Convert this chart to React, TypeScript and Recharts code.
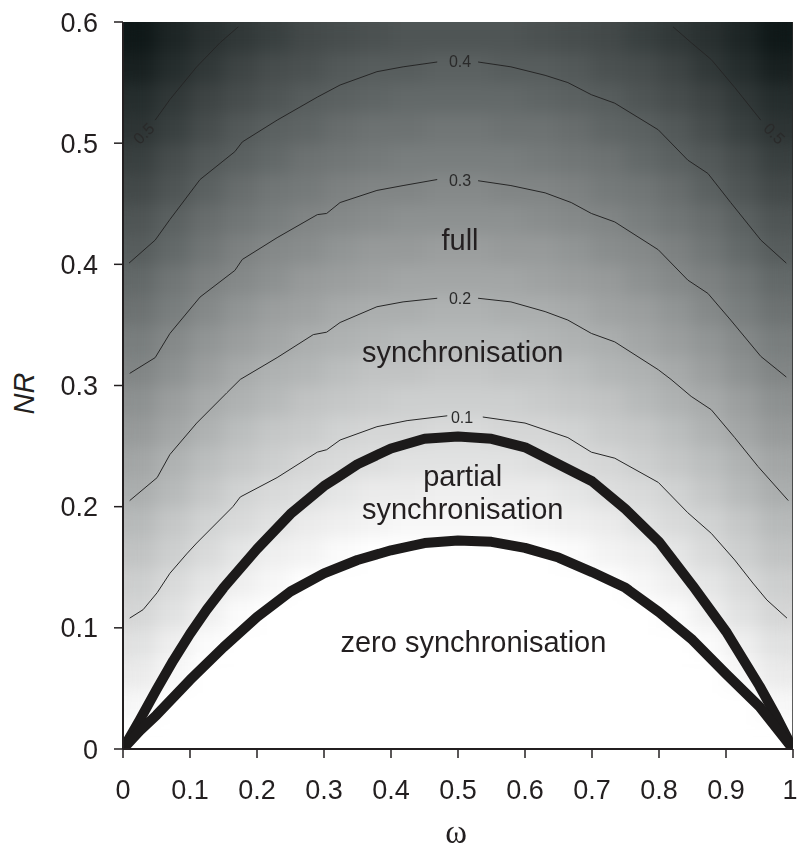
import {
  ComposedChart,
  XAxis,
  YAxis,
  Line,
  ReferenceArea,
  ReferenceDot,
} from "recharts";

const OMEGA_TICKS = [0, 0.1, 0.2, 0.3, 0.4, 0.5, 0.6, 0.7, 0.8, 0.9, 1];
const NR_TICKS = [0, 0.1, 0.2, 0.3, 0.4, 0.5, 0.6];

// heat map bins (cell edges) and the synchronisation level read per cell
const OMEGA_EDGES = [0, 0.05, 0.1, 0.15, 0.2, 0.25, 0.3, 0.35, 0.4, 0.45, 0.5, 0.55, 0.6, 0.65, 0.7, 0.75, 0.8, 0.85, 0.9, 0.95, 1];
const NR_EDGES = [0, 0.025, 0.05, 0.075, 0.1, 0.125, 0.15, 0.175, 0.2, 0.225, 0.25, 0.275, 0.3, 0.325, 0.35, 0.375, 0.4, 0.425, 0.45, 0.475, 0.5, 0.525, 0.55, 0.575, 0.6];

// rows from NR = 0 upwards
const SYNC_GRID = [
  [0, 0, 0, 0, 0, 0, 0, 0, 0, 0, 0, 0, 0, 0, 0, 0, 0, 0, 0, 0],
  [0.02, 0, 0, 0, 0, 0, 0, 0, 0, 0, 0, 0, 0, 0, 0, 0, 0, 0, 0, 0.02],
  [0.05, 0.02, 0, 0, 0, 0, 0, 0, 0, 0, 0, 0, 0, 0, 0, 0, 0, 0, 0.02, 0.05],
  [0.07, 0.04, 0.01, 0, 0, 0, 0, 0, 0, 0, 0, 0, 0, 0, 0, 0, 0, 0.01, 0.04, 0.07],
  [0.1, 0.07, 0.04, 0.01, 0, 0, 0, 0, 0, 0, 0, 0, 0, 0, 0, 0, 0.01, 0.04, 0.07, 0.1],
  [0.12, 0.09, 0.06, 0.04, 0.02, 0, 0, 0, 0, 0, 0, 0, 0, 0, 0, 0.02, 0.04, 0.06, 0.09, 0.12],
  [0.15, 0.12, 0.09, 0.06, 0.04, 0.03, 0.01, 0, 0, 0, 0, 0, 0, 0.01, 0.03, 0.04, 0.06, 0.09, 0.12, 0.15],
  [0.17, 0.14, 0.11, 0.09, 0.07, 0.05, 0.04, 0.03, 0.02, 0.02, 0.02, 0.02, 0.03, 0.04, 0.05, 0.07, 0.09, 0.11, 0.14, 0.17],
  [0.2, 0.17, 0.14, 0.11, 0.09, 0.08, 0.06, 0.05, 0.05, 0.04, 0.04, 0.05, 0.05, 0.06, 0.08, 0.09, 0.11, 0.14, 0.17, 0.2],
  [0.22, 0.19, 0.16, 0.14, 0.12, 0.1, 0.09, 0.08, 0.07, 0.07, 0.07, 0.07, 0.08, 0.09, 0.1, 0.12, 0.14, 0.16, 0.19, 0.22],
  [0.25, 0.22, 0.19, 0.16, 0.14, 0.13, 0.11, 0.1, 0.1, 0.09, 0.09, 0.1, 0.1, 0.11, 0.13, 0.14, 0.16, 0.19, 0.22, 0.25],
  [0.27, 0.24, 0.21, 0.19, 0.17, 0.15, 0.14, 0.13, 0.12, 0.12, 0.12, 0.12, 0.13, 0.14, 0.15, 0.17, 0.19, 0.21, 0.24, 0.27],
  [0.3, 0.27, 0.24, 0.21, 0.19, 0.18, 0.16, 0.15, 0.15, 0.14, 0.14, 0.15, 0.15, 0.16, 0.18, 0.19, 0.21, 0.24, 0.27, 0.3],
  [0.32, 0.29, 0.26, 0.24, 0.22, 0.2, 0.19, 0.18, 0.17, 0.17, 0.17, 0.17, 0.18, 0.19, 0.2, 0.22, 0.24, 0.26, 0.29, 0.32],
  [0.35, 0.32, 0.29, 0.26, 0.24, 0.23, 0.21, 0.2, 0.2, 0.19, 0.19, 0.2, 0.2, 0.21, 0.23, 0.24, 0.26, 0.29, 0.32, 0.35],
  [0.37, 0.34, 0.31, 0.29, 0.27, 0.25, 0.24, 0.23, 0.22, 0.22, 0.22, 0.22, 0.23, 0.24, 0.25, 0.27, 0.29, 0.31, 0.34, 0.37],
  [0.4, 0.37, 0.34, 0.31, 0.29, 0.28, 0.26, 0.25, 0.25, 0.24, 0.24, 0.25, 0.25, 0.26, 0.28, 0.29, 0.31, 0.34, 0.37, 0.4],
  [0.42, 0.39, 0.36, 0.34, 0.32, 0.3, 0.29, 0.28, 0.27, 0.27, 0.27, 0.27, 0.28, 0.29, 0.3, 0.32, 0.34, 0.36, 0.39, 0.42],
  [0.45, 0.42, 0.39, 0.36, 0.34, 0.33, 0.31, 0.3, 0.3, 0.29, 0.29, 0.3, 0.3, 0.31, 0.33, 0.34, 0.36, 0.39, 0.42, 0.45],
  [0.47, 0.44, 0.41, 0.39, 0.37, 0.35, 0.34, 0.33, 0.32, 0.32, 0.32, 0.32, 0.33, 0.34, 0.35, 0.37, 0.39, 0.41, 0.44, 0.47],
  [0.5, 0.47, 0.44, 0.41, 0.39, 0.38, 0.36, 0.35, 0.35, 0.34, 0.34, 0.35, 0.35, 0.36, 0.38, 0.39, 0.41, 0.44, 0.47, 0.5],
  [0.52, 0.49, 0.46, 0.44, 0.42, 0.4, 0.39, 0.38, 0.37, 0.37, 0.37, 0.37, 0.38, 0.39, 0.4, 0.42, 0.44, 0.46, 0.49, 0.52],
  [0.55, 0.52, 0.49, 0.46, 0.44, 0.43, 0.41, 0.4, 0.4, 0.39, 0.39, 0.4, 0.4, 0.41, 0.43, 0.44, 0.46, 0.49, 0.52, 0.55],
  [0.57, 0.54, 0.51, 0.49, 0.47, 0.45, 0.44, 0.43, 0.42, 0.42, 0.42, 0.42, 0.43, 0.44, 0.45, 0.47, 0.49, 0.51, 0.54, 0.57],
];

// thick boundaries
const PARTIAL_EDGE = [
  [0, 0], [0.025, 0.024], [0.05, 0.049], [0.075, 0.073], [0.1, 0.095], [0.125, 0.115],
  [0.15, 0.133], [0.2, 0.165], [0.25, 0.194], [0.3, 0.217], [0.32, 0.224], [0.35, 0.235],
  [0.4, 0.248], [0.45, 0.256], [0.5, 0.258], [0.55, 0.256], [0.6, 0.249], [0.65, 0.235],
  [0.7, 0.221], [0.75, 0.198], [0.8, 0.171], [0.85, 0.135], [0.9, 0.097], [0.95, 0.052],
  [0.975, 0.027], [1, 0],
];
const ZERO_EDGE = [
  [0, 0], [0.025, 0.015], [0.05, 0.028], [0.1, 0.057], [0.15, 0.084], [0.2, 0.109],
  [0.25, 0.13], [0.3, 0.145], [0.35, 0.156], [0.4, 0.164], [0.45, 0.17], [0.5, 0.172],
  [0.55, 0.171], [0.6, 0.166], [0.65, 0.158], [0.7, 0.146], [0.75, 0.133], [0.8, 0.113],
  [0.85, 0.09], [0.9, 0.062], [0.95, 0.035], [1, 0],
];

// right-hand frame of the map
const RIGHT_FRAME = [[1, 0], [1, 0.6]];

// contour lines, split where the level label sits
const C01_LEFT = [
  [0.01, 0.108], [0.03, 0.115], [0.051, 0.129], [0.07, 0.145], [0.095, 0.161], [0.11, 0.17],
  [0.164, 0.2], [0.175, 0.208], [0.23, 0.224], [0.29, 0.245], [0.304, 0.247], [0.324, 0.255],
  [0.379, 0.266], [0.424, 0.271], [0.484, 0.275],
];
const C01_RIGHT = [
  [0.537, 0.274], [0.6, 0.269], [0.664, 0.257], [0.699, 0.245], [0.734, 0.24], [0.799, 0.22],
  [0.843, 0.195], [0.878, 0.178], [0.913, 0.156], [0.94, 0.137], [0.961, 0.123], [0.991, 0.108],
];
const C02_LEFT = [
  [0.01, 0.205], [0.051, 0.224], [0.07, 0.243], [0.11, 0.269], [0.155, 0.294], [0.175, 0.305],
  [0.23, 0.323], [0.284, 0.342], [0.304, 0.344], [0.324, 0.352], [0.379, 0.365], [0.418, 0.369],
  [0.469, 0.372],
];
const C02_RIGHT = [
  [0.53, 0.372], [0.579, 0.369], [0.63, 0.361], [0.664, 0.354], [0.699, 0.343], [0.734, 0.336],
  [0.799, 0.313], [0.818, 0.305], [0.848, 0.291], [0.878, 0.28], [0.913, 0.257], [0.948, 0.233],
  [0.993, 0.205],
];
const C03_LEFT = [
  [0.01, 0.31], [0.048, 0.323], [0.07, 0.343], [0.115, 0.373], [0.167, 0.395], [0.178, 0.404],
  [0.23, 0.422], [0.29, 0.441], [0.304, 0.442], [0.324, 0.451], [0.379, 0.461], [0.418, 0.465],
  [0.469, 0.47],
];
const C03_RIGHT = [
  [0.53, 0.469], [0.579, 0.465], [0.63, 0.459], [0.669, 0.451], [0.699, 0.442], [0.734, 0.435],
  [0.799, 0.412], [0.843, 0.387], [0.873, 0.376], [0.907, 0.354], [0.952, 0.324], [0.99, 0.307],
];
const C04_LEFT = [
  [0.009, 0.401], [0.048, 0.42], [0.07, 0.437], [0.115, 0.47], [0.167, 0.493], [0.178, 0.501],
  [0.23, 0.519], [0.29, 0.538], [0.324, 0.548], [0.379, 0.559], [0.418, 0.563], [0.469, 0.567],
];
const C04_RIGHT = [
  [0.53, 0.567], [0.579, 0.563], [0.63, 0.556], [0.664, 0.55], [0.699, 0.54], [0.734, 0.533],
  [0.799, 0.511], [0.843, 0.486], [0.873, 0.475], [0.907, 0.451], [0.952, 0.42], [0.99, 0.401],
];
const C05_LEFT = [[0.048, 0.519], [0.07, 0.536], [0.11, 0.563], [0.145, 0.583], [0.172, 0.596]];
const C05_RIGHT = [[0.821, 0.596], [0.848, 0.583], [0.878, 0.569], [0.913, 0.546], [0.952, 0.519]];

const CONTOUR_PARTS = [C01_LEFT, C01_RIGHT, C02_LEFT, C02_RIGHT, C03_LEFT, C03_RIGHT, C04_LEFT, C04_RIGHT, C05_LEFT, C05_RIGHT];

// level labels on the contours: [omega, NR, text, angle]
const LEVEL_LABELS: [number, number, string, number][] = [
  [0.506, 0.274, "0.1", 0],
  [0.503, 0.372, "0.2", 0],
  [0.503, 0.469, "0.3", 0],
  [0.503, 0.567, "0.4", 0],
  [0.031, 0.508, "0.5", -45],
  [0.972, 0.508, "0.5", 45],
];

// region names: [omega, NR baseline, text]
const REGION_LABELS: [number, number, string][] = [
  [0.503, 0.412, "full"],
  [0.507, 0.319, "synchronisation"],
  [0.507, 0.217, "partial"],
  [0.507, 0.19, "synchronisation"],
  [0.523, 0.08, "zero synchronisation"],
];

const FONT = 'Arial, "Liberation Sans", Helvetica, sans-serif';
const INK = "#231f20";

const pts = (arr: number[][]) => arr.map(([x, y]) => ({ x, y }));

function grey(z: number) {
  const g = Math.max(6, Math.min(255, Math.round(255 - 410 * z)));
  const t = 1 - g / 255;
  const r = Math.round(g - 6 * t);
  const gb = Math.round(g + 3 * t);
  return `rgb(${r},${gb},${gb})`;
}

function OmegaTick(props: any) {
  const { x, y, payload } = props;
  const v = payload.value;
  return (
    <text
      x={v === 1 ? x - 3 : x}
      y={y}
      dy="0.71em"
      textAnchor="middle"
      fill={INK}
      fontSize={27}
      fontFamily={FONT}
    >
      {String(v)}
    </text>
  );
}

// the reference areas end up in their own layer; soften that layer like the original raster
const FIELD_CSS = `
g:has(> .recharts-reference-area) {
  filter: url(#smoothField);
  clip-path: url(#plotClip);
}
`;

export default function App() {
  const cells = [];
  for (let j = 0; j < SYNC_GRID.length; j++) {
    for (let i = 0; i < SYNC_GRID[j].length; i++) {
      const fill = grey(SYNC_GRID[j][i]);
      cells.push(
        <ReferenceArea
          key={`c${j}-${i}`}
          x1={OMEGA_EDGES[i]}
          x2={OMEGA_EDGES[i + 1]}
          y1={NR_EDGES[j]}
          y2={NR_EDGES[j + 1]}
          fill={fill}
          fillOpacity={1}
          stroke={fill}
          strokeWidth={0.8}
          ifOverflow="hidden"
        />
      );
    }
  }

  const lineBase = {
    dataKey: "y",
    type: "linear" as const,
    dot: false,
    activeDot: false,
    isAnimationActive: false,
  };

  return (
    <div style={{ position: "absolute", left: 0, top: 0, background: "#fff" }}>
      <style>{FIELD_CSS}</style>
      <ComposedChart
        width={799}
        height={849}
        margin={{ top: 22, right: 6, bottom: 20, left: 0 }}
      >
        <defs>
          <filter id="smoothField" x="-5%" y="-5%" width="110%" height="110%" colorInterpolationFilters="sRGB">
            <feGaussianBlur stdDeviation="9 8" />
            <feComponentTransfer>
              <feFuncA type="linear" slope="0" intercept="1" />
            </feComponentTransfer>
          </filter>
          <clipPath id="plotClip">
            <rect x={123} y={22} width={670} height={727} />
          </clipPath>
        </defs>
        {cells}
        <XAxis
          type="number"
          dataKey="x"
          domain={[0, 1]}
          ticks={OMEGA_TICKS}
          interval={0}
          height={80}
          tickSize={9}
          tickMargin={22}
          axisLine={{ stroke: INK, strokeWidth: 2 }}
          tickLine={{ stroke: INK, strokeWidth: 1.5 }}
          tick={<OmegaTick />}
          allowDataOverflow
          label={{
            content: (p: any) => {
              const vb = p.viewBox;
              return (
                <text
                  x={vb.x + vb.width / 2 - 2}
                  y={843}
                  textAnchor="middle"
                  fill={INK}
                  fontSize={33}
                  fontFamily='"Liberation Serif", "Times New Roman", serif'
                >
                  ω
                </text>
              );
            },
          }}
        />
        <YAxis
          type="number"
          domain={[0, 0.6]}
          ticks={NR_TICKS}
          interval={0}
          width={123}
          tickSize={9}
          tickMargin={16}
          axisLine={{ stroke: INK, strokeWidth: 2 }}
          tickLine={{ stroke: INK, strokeWidth: 1.5 }}
          tick={{ fill: INK, fontSize: 27, fontFamily: FONT }}
          allowDataOverflow
          label={{
            content: (p: any) => {
              const vb = p.viewBox;
              const cy = vb.y + vb.height / 2 + 8;
              return (
                <text
                  x={24}
                  y={cy}
                  transform={`rotate(-90 24 ${cy})`}
                  textAnchor="middle"
                  dominantBaseline="central"
                  fill={INK}
                  fontSize={29}
                  fontStyle="italic"
                  fontFamily={FONT}
                >
                  NR
                </text>
              );
            },
          }}
        />
        <Line {...lineBase} data={pts(RIGHT_FRAME)} stroke="#2a2a2a" strokeWidth={1.5} />
        {CONTOUR_PARTS.map((c, k) => (
          <Line key={`ct${k}`} {...lineBase} data={pts(c)} stroke="#262626" strokeWidth={1} />
        ))}
        <Line
          {...lineBase}
          data={pts(PARTIAL_EDGE)}
          stroke="#1c1a1a"
          strokeWidth={10}
          strokeLinejoin="round"
          strokeLinecap="round"
        />
        <Line
          {...lineBase}
          data={pts(ZERO_EDGE)}
          stroke="#1c1a1a"
          strokeWidth={10}
          strokeLinejoin="round"
          strokeLinecap="round"
        />
        {LEVEL_LABELS.map(([x, y, t, a], k) => (
          <ReferenceDot
            key={`ll${k}`}
            x={x}
            y={y}
            r={0}
            ifOverflow="visible"
            shape={(p: any) => (
              <text
                x={p.cx}
                y={p.cy}
                transform={a ? `rotate(${a} ${p.cx} ${p.cy})` : undefined}
                textAnchor="middle"
                dominantBaseline="central"
                fill="#2a2a2a"
                fontSize={16}
                fontFamily={FONT}
              >
                {t}
              </text>
            )}
          />
        ))}
        {REGION_LABELS.map(([x, y, t], k) => (
          <ReferenceDot
            key={`rl${k}`}
            x={x}
            y={y}
            r={0}
            ifOverflow="visible"
            shape={(p: any) => (
              <text
                x={p.cx}
                y={p.cy}
                textAnchor="middle"
                fill={INK}
                fontSize={29}
                fontFamily={FONT}
              >
                {t}
              </text>
            )}
          />
        ))}
      </ComposedChart>
    </div>
  );
}
